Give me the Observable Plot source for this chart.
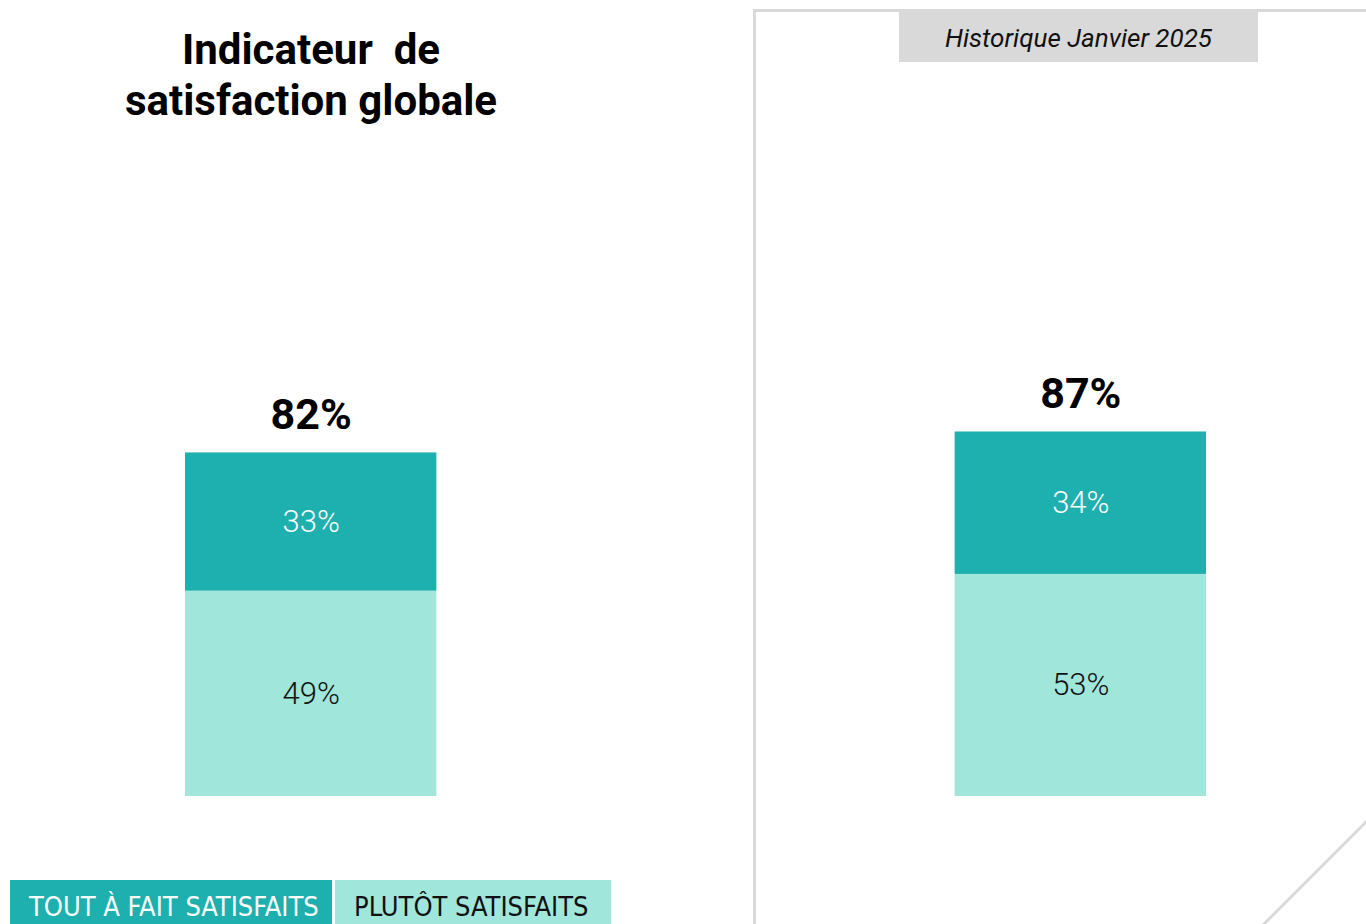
<!DOCTYPE html>
<html lang="fr">
<head>
<meta charset="utf-8">
<script src="https://cdn.jsdelivr.net/npm/d3@7"></script>
<script src="https://cdn.jsdelivr.net/npm/@observablehq/plot@0.6"></script>
<style>
  html, body { margin: 0; padding: 0; background: #fff; }
  #wrap { position: relative; width: 1366px; height: 924px; overflow: hidden; font-family: Roboto, "Noto Sans", sans-serif; }
  #chart { position: absolute; left: 0; top: 0; }
  .title { position: absolute; left: 61px; width: 500px; top: 24px; text-align: center; font-weight: 700; font-size: 42px; line-height: 51px; color: #000; white-space: pre; }
  .panel { position: absolute; left: 753px; top: 9px; width: 700px; height: 1000px; border-left: 3px solid #D9D9D9; border-top: 3px solid #D9D9D9; box-sizing: border-box; }
  .hist { position: absolute; left: 899px; top: 12px; width: 359px; height: 50px; background: #D9D9D9; text-align: center; line-height: 52px; font-style: italic; font-size: 26px; color: #111; }
  .deco { position: absolute; left: 0; top: 0; pointer-events: none; }
  .leg { position: absolute; top: 880px; height: 50px; font-family: "Liberation Sans Narrow", "DejaVu Sans Condensed", Roboto, sans-serif; font-size: 27px; line-height: 54px; padding-left: 19px; box-sizing: border-box; white-space: nowrap; }
</style>
</head>
<body>
<div id="wrap">
  <div class="panel"></div>
  <svg class="deco" width="1366" height="924"><line x1="1262" y1="926" x2="1368" y2="820" stroke="#D9D9D9" stroke-width="3"/></svg>
  <div class="hist" id="hist"></div>
  <div class="title" id="title"></div>
  <div id="chart"></div>
  <div id="legend"></div>
</div>
<script>
// ---- data ----
const periods = ["Actuel", "Historique Janvier 2025"];
const categories = ["PLUTÔT SATISFAITS", "TOUT À FAIT SATISFAITS"]; // bottom to top
const plutotSatisfaits = [49, 53];
const toutAFaitSatisfaits = [33, 34];
const totals = [82, 87];
const legendLabels = ["TOUT À FAIT SATISFAITS", "PLUTÔT SATISFAITS"];
const titleText = "Indicateur  de\nsatisfaction globale";
const historiqueLabel = "Historique Janvier 2025";

const colors = { "TOUT À FAIT SATISFAITS": "#1EAFAF", "PLUTÔT SATISFAITS": "#A0E6DA" };
const textColors = { "TOUT À FAIT SATISFAITS": "#ffffff", "PLUTÔT SATISFAITS": "#111111" };

const rows = [];
periods.forEach((p, i) => {
  rows.push({ period: p, category: categories[0], value: plutotSatisfaits[i] });
  rows.push({ period: p, category: categories[1], value: toutAFaitSatisfaits[i] });
});
const totalRows = periods.map((p, i) => ({ period: p, total: totals[i] }));

document.getElementById("title").textContent = titleText;
document.getElementById("hist").textContent = historiqueLabel;

const chart = Plot.plot({
  width: 1366,
  height: 924,
  marginTop: 0, marginBottom: 0, marginLeft: 0, marginRight: 0,
  style: { fontFamily: "Roboto, sans-serif", background: "transparent", overflow: "visible" },
  x: { domain: periods, range: [185, 1206], paddingInner: 0.6734, paddingOuter: 0, round: false, axis: null },
  y: { domain: [0, 100], range: [796, 377], axis: null },
  color: { domain: categories, range: categories.map(c => colors[c]) },
  marks: [
    Plot.barY(rows, { x: "period", y: "value", fill: "category", order: categories }),
    Plot.textY(rows, Plot.stackY({
      x: "period", y: "value", z: "category", order: categories,
      text: d => d.value + "%",
      fill: d => textColors[d.category],
      fontSize: 31, fontWeight: 300
    })),
    Plot.text(totalRows, {
      x: "period", y: "total", text: d => d.total + "%",
      lineAnchor: "bottom", dy: -24, fontSize: 43, fontWeight: 700, fill: "#000"
    })
  ]
});
document.getElementById("chart").appendChild(chart);

// legend
const legend = document.getElementById("legend");
const legPos = [[10, 322], [335, 276]];
legendLabels.forEach((lab, i) => {
  const d = document.createElement("div");
  d.className = "leg";
  d.style.left = legPos[i][0] + "px";
  d.style.width = legPos[i][1] + "px";
  d.style.background = colors[lab];
  d.style.color = textColors[lab];
  d.textContent = lab;
  legend.appendChild(d);
});
</script>
</body>
</html>
